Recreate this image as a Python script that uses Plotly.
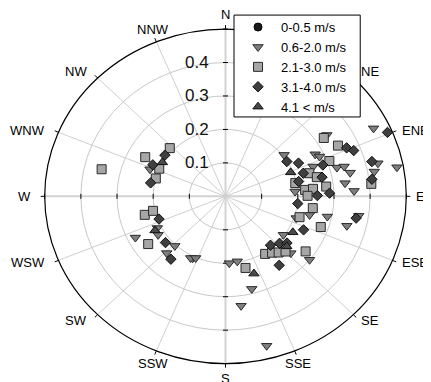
import math
import plotly.graph_objects as go

# ---------------- data ----------------
DIRECTIONS = ["N", "NNE", "NE", "ENE", "E", "ESE", "SE", "SSE",
              "S", "SSW", "SW", "WSW", "W", "WNW", "NW", "NNW"]
DIRECTION_DEG = [i * 22.5 for i in range(16)]
HIDDEN_LABELS = {"NNE"}  # covered by the legend box in the original
RADIAL_TICKS = [0.1, 0.2, 0.3, 0.4]
RADIAL_TICK_LABELS = ["0.1", "0.2", "0.3", "0.4"]
R_MAX = 0.5
SERIES_NAMES = ["0-0.5 m/s", "0.6-2.0 m/s", "2.1-3.0 m/s", "3.1-4.0 m/s", "4.1 < m/s"]

# 0-0.5 m/s (no observations)
calm_theta = []
calm_r = []

# 0.6-2.0 m/s
light_theta = [56.8, 63.6, 52.6, 63.1, 65.4, 69.8, 74.4, 74.8, 78.4, 83.2,
               87.4, 85.7, 108.4, 103.4, 102.1, 104.7, 125.7, 133.2, 129.2, 99.0,
               76.8, 79.6, 79.8, 177.0, 170.5, 165.3, 172.5, 165.7, 206.2,
               291.2, 243.3, 238.3, 243.7, 223.4, 223.8, 207.6, 204.1]
light_r = [0.335, 0.457, 0.204, 0.278, 0.286, 0.258, 0.320, 0.340, 0.352, 0.333,
           0.356, 0.193, 0.206, 0.239, 0.288, 0.347, 0.197, 0.248, 0.300, 0.373,
           0.433, 0.482, 0.418, 0.200, 0.197, 0.286, 0.330, 0.461, 0.206,
           0.224, 0.211, 0.219, 0.278, 0.204, 0.235, 0.208, 0.202]

# 2.1-3.0 m/s
moderate_theta = [57.3, 64.0, 69.8, 73.4, 77.2, 78.4, 85.0, 84.7, 84.0, 89.6,
                  98.3, 106.9, 109.2, 84.7, 147.5, 142.6, 138.8, 134.8, 126.6, 165.5,
                  283.3, 297.8, 313.1, 294.3, 285.5, 256.1, 257.8, 236.3]
moderate_r = [0.323, 0.346, 0.306, 0.242, 0.259, 0.197, 0.221, 0.243, 0.280, 0.227,
              0.244, 0.214, 0.279, 0.405, 0.204, 0.212, 0.223, 0.234, 0.276, 0.221,
              0.352, 0.251, 0.211, 0.201, 0.200, 0.230, 0.205, 0.257]

# 3.1-4.0 m/s
fresh_theta = [66.9, 66.6, 68.9, 58.5, 63.8, 70.8, 72.2, 77.9, 77.6, 89.5,
               88.1, 96.2, 114.9, 100.2, 75.6, 82.8, 139.6, 133.2, 129.4, 144.2,
               306.3, 295.1, 281.0, 249.7, 230.2, 218.8]
fresh_r = [0.487, 0.365, 0.380, 0.199, 0.225, 0.285, 0.226, 0.273, 0.207, 0.254,
           0.288, 0.201, 0.238, 0.367, 0.418, 0.408, 0.192, 0.205, 0.220, 0.254,
           0.208, 0.222, 0.211, 0.196, 0.216, 0.241]

# 4.1 < m/s
strong_theta = [68.3, 120.0, 131.4, 161.2, 300.2, 242.4]
strong_r = [0.194, 0.215, 0.226, 0.244, 0.202, 0.220]

# ---------------- geometry ----------------
PAGE_OFFSET = 8            # default body margin of the written html page
W, H = 431 - PAGE_OFFSET, 382 - PAGE_OFFSET
X_RANGE = [-0.56, 0.56]
Y_RANGE = [-0.54, 0.56]
PX_PER_X = 361.0   # pixels per data unit horizontally
PX_PER_Y = 335.0   # pixels per data unit vertically
CX, CY = 225.5 - PAGE_OFFSET, 196.5 - PAGE_OFFSET

m_l = CX + X_RANGE[0] * PX_PER_X
m_r = W - (CX + X_RANGE[1] * PX_PER_X)
m_t = CY - Y_RANGE[1] * PX_PER_Y
m_b = H - (CY - Y_RANGE[0] * PX_PER_Y)
plot_w = W - m_l - m_r
plot_h = H - m_t - m_b

# legend box (page pixels -> figure pixels)
BOX_L, BOX_T, BOX_R, BOX_B = (234 - PAGE_OFFSET, 15 - PAGE_OFFSET,
                              360 - PAGE_OFFSET, 117 - PAGE_OFFSET)


def px_to_paper_x(px):
    return (px - m_l) / plot_w


def px_to_paper_y(py):
    return 1 - (py - m_t) / plot_h


def to_xy(thetas, rs):
    xs = [r * math.sin(math.radians(t)) for t, r in zip(thetas, rs)]
    ys = [r * math.cos(math.radians(t)) for t, r in zip(thetas, rs)]
    return xs, ys


FONT = "Liberation Sans, Arial, sans-serif"
fig = go.Figure()

styles = [
    dict(symbol="circle", color="#1a1a1a", line="#000000", size=8),
    dict(symbol="triangle-down", color="#7f7f7f", line="#2a2a2a", size=9),
    dict(symbol="square", color="#a6a6a6", line="#2a2a2a", size=9),
    dict(symbol="diamond", color="#3f3f3f", line="#111111", size=8),
    dict(symbol="triangle-up", color="#4a4a4a", line="#111111", size=9),
]
series = [(calm_theta, calm_r), (light_theta, light_r), (moderate_theta, moderate_r),
          (fresh_theta, fresh_r), (strong_theta, strong_r)]

shapes = []
annotations = []

# gridline circles
for t in RADIAL_TICKS:
    shapes.append(dict(type="circle", xref="x", yref="y", x0=-t, x1=t, y0=-t, y1=t,
                       line=dict(color="#c8c8c8", width=1), layer="below"))
# spokes
for i, d in enumerate(DIRECTION_DEG):
    x1 = R_MAX * math.sin(math.radians(d))
    y1 = R_MAX * math.cos(math.radians(d))
    main = (i % 4 == 0)
    shapes.append(dict(type="line", xref="x", yref="y", x0=0, y0=0, x1=x1, y1=y1,
                       line=dict(color="#d2d2d2" if main else "#cfcfcf", width=2 if main else 1),
                       layer="below"))
# outer circle
shapes.append(dict(type="circle", xref="x", yref="y", x0=-R_MAX, x1=R_MAX, y0=-R_MAX, y1=R_MAX,
                   line=dict(color="#000000", width=1.2), layer="below"))
# outer direction ticks (outward, ~4 px)
for d in DIRECTION_DEG:
    s, c = math.sin(math.radians(d)), math.cos(math.radians(d))
    x0, y0 = R_MAX * s, R_MAX * c
    shapes.append(dict(type="line", xref="x", yref="y", x0=x0, y0=y0,
                       x1=x0 + 4 * s / PX_PER_X, y1=y0 + 4 * c / PX_PER_Y,
                       line=dict(color="#000000", width=1), layer="below"))
# radial ticks on the four main axes
for t in RADIAL_TICKS + [R_MAX]:
    for d in (0, 90, 180, 270):
        s, c = math.sin(math.radians(d)), math.cos(math.radians(d))
        px, py = t * s, t * c
        qx, qy = c * 2.5 / PX_PER_X, -s * 2.5 / PX_PER_Y
        shapes.append(dict(type="line", xref="x", yref="y", x0=px - qx, y0=py - qy,
                           x1=px + qx, y1=py + qy,
                           line=dict(color="#000000", width=1), layer="below"))

# legend frame (white, drawn above the data like the original opaque legend)
shapes.append(dict(type="rect", xref="paper", yref="paper",
                   x0=px_to_paper_x(BOX_L), x1=px_to_paper_x(BOX_R),
                   y0=px_to_paper_y(BOX_B), y1=px_to_paper_y(BOX_T),
                   fillcolor="white", line=dict(color="#000000", width=1), layer="above"))

# radial tick labels along N axis
for t, lab in zip(RADIAL_TICKS, RADIAL_TICK_LABELS):
    annotations.append(dict(x=0, y=t, xref="x", yref="y", text=lab, showarrow=False,
                            xanchor="right", yanchor="middle", xshift=-15, yshift=0,
                            font=dict(family=FONT, size=17, color="#111111")))

# direction labels
for name, d in zip(DIRECTIONS, DIRECTION_DEG):
    if name in HIDDEN_LABELS:
        continue
    s, c = math.sin(math.radians(d)), math.cos(math.radians(d))
    if s > 0.5:
        xanchor, sx = "left", s * 8
    elif s < -0.5:
        xanchor, sx = "right", s * 12
    else:
        xanchor, sx = "center", s * 9
    sy = 3 * c + 12 * c ** 3
    annotations.append(dict(x=max(min(R_MAX * s, R_MAX), -R_MAX),
                            y=max(min(R_MAX * c, R_MAX), -R_MAX),
                            xref="x", yref="y", text=name, showarrow=False,
                            xanchor=xanchor, yanchor="middle", xshift=sx, yshift=sy,
                            font=dict(family=FONT, size=13, color="#000000")))

for name, (th, rr), st in zip(SERIES_NAMES, series, styles):
    xs, ys = to_xy(th, rr)
    fig.add_trace(go.Scatter(
        x=xs if xs else [None], y=ys if ys else [None], mode="markers", name=name,
        cliponaxis=False,
        marker=dict(symbol=st["symbol"], size=st["size"], color=st["color"],
                    line=dict(color=st["line"], width=1)),
        hoverinfo="skip"))

fig.update_layout(
    width=W, height=H, autosize=False,
    margin=dict(l=m_l, r=m_r, t=m_t, b=m_b, pad=0, autoexpand=False),
    paper_bgcolor="white", plot_bgcolor="white",
    xaxis=dict(range=X_RANGE, visible=False, fixedrange=True),
    yaxis=dict(range=Y_RANGE, visible=False, fixedrange=True),
    shapes=shapes, annotations=annotations,
    showlegend=True,
    legend=dict(x=px_to_paper_x(BOX_L + 1), y=px_to_paper_y(BOX_T - 3),
                xanchor="left", yanchor="top",
                bgcolor="rgba(0,0,0,0)", borderwidth=0,
                font=dict(family=FONT, size=13, color="#000000"),
                itemwidth=36),
    font=dict(family=FONT),
)

fig.write_html("out.html")
